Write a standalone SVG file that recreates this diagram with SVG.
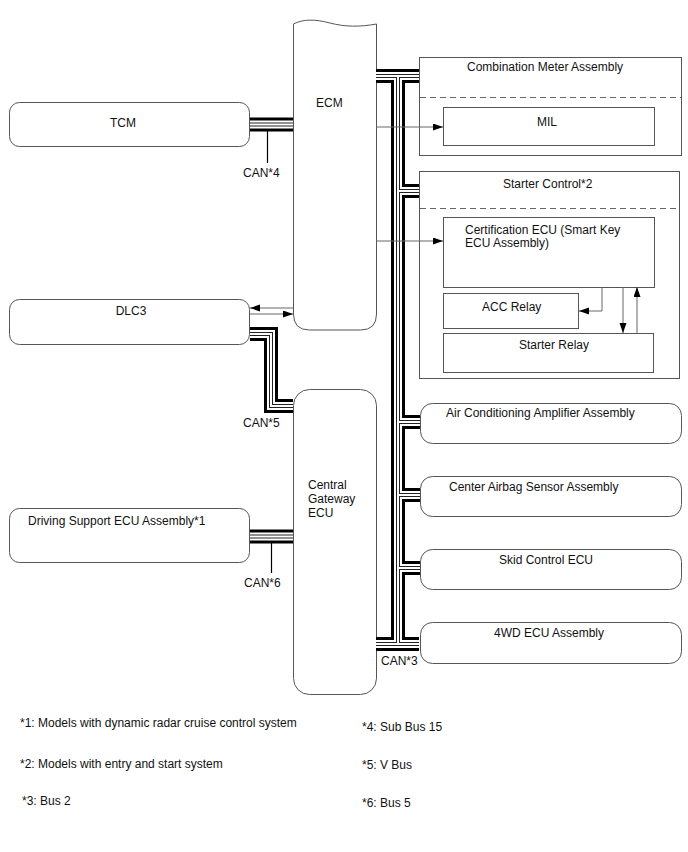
<svg xmlns="http://www.w3.org/2000/svg" width="688" height="852" viewBox="0 0 688 852">
<defs>
<marker id="ah" markerUnits="userSpaceOnUse" markerWidth="11" markerHeight="8" refX="10" refY="3.5" orient="auto">
<path d="M0,0 L10,3.5 L0,7 z" fill="#000"/>
</marker>
<style>
text{font-family:"Liberation Sans",Arial,sans-serif;font-size:12px;fill:#111}
.box{fill:#fff;stroke:#555;stroke-width:1}
.frame{fill:none;stroke:#555;stroke-width:1}
.dash{fill:none;stroke:#666;stroke-width:1;stroke-dasharray:6,4}
.arr{fill:none;stroke:#666;stroke-width:1;marker-end:url(#ah)}
.b1{fill:none;stroke:#000;stroke-width:14;stroke-linejoin:miter}
.b2{fill:none;stroke:#fff;stroke-width:8;stroke-linejoin:miter}
.b3{fill:none;stroke:#222;stroke-width:4;stroke-linejoin:miter}
.b4{fill:none;stroke:#fff;stroke-width:2;stroke-linejoin:miter}
.tick{fill:none;stroke:#000;stroke-width:1.2}
</style>
</defs>
<rect width="688" height="852" fill="#fff"/>

<g id="tcm">
<rect class="box" x="9.5" y="102.5" width="240" height="44" rx="10"/>
<text x="123" y="127" text-anchor="middle">TCM</text>
</g>
<g id="dlc3">
<rect class="box" x="9.5" y="299.5" width="240" height="45" rx="10"/>
<text x="131" y="315" text-anchor="middle">DLC3</text>
</g>
<g id="driving-support">
<rect class="box" x="9.5" y="508.5" width="240" height="54" rx="10"/>
<text x="28" y="525">Driving Support ECU Assembly*1</text>
</g>
<g id="ecm">
<path class="box" d="M293.5,24 C303,19 315,19 330,23 S360,27 376.5,24 V314 Q376.5,330 360.5,330 H309.5 Q293.5,330 293.5,314 Z"/>
<text x="316" y="107">ECM</text>
</g>
<g id="gateway">
<rect class="box" x="293.5" y="389.5" width="83" height="305" rx="16"/>
<text x="308" y="489">Central</text>
<text x="308" y="503">Gateway</text>
<text x="308" y="517">ECU</text>
</g>
<g id="combination-meter">
<rect class="frame" x="419.5" y="57.5" width="262" height="98"/>
<path class="dash" d="M420,97.5H681"/>
<text x="467" y="71">Combination Meter Assembly</text>
</g>
<g id="mil">
<rect class="box" x="443.5" y="107.5" width="211" height="38"/>
<text x="537" y="126">MIL</text>
</g>
<g id="starter-control">
<rect class="frame" x="419.5" y="171.5" width="260" height="207"/>
<path class="dash" d="M420,208.5H679"/>
<text x="503" y="188">Starter Control*2</text>
</g>
<g id="certification-ecu">
<rect class="box" x="443.5" y="217.5" width="211" height="70"/>
<text x="465" y="234">Certification ECU (Smart Key</text>
<text x="465" y="247">ECU Assembly)</text>
</g>
<g id="acc-relay">
<rect class="box" x="443.5" y="293.5" width="135" height="35"/>
<text x="482" y="311">ACC Relay</text>
</g>
<g id="starter-relay">
<rect class="box" x="443.5" y="333.5" width="210" height="39"/>
<text x="519" y="349">Starter Relay</text>
</g>
<g id="air-conditioning">
<rect class="box" x="420.5" y="403.5" width="261" height="40" rx="12"/>
<text x="446" y="417">Air Conditioning Amplifier Assembly</text>
</g>
<g id="center-airbag">
<rect class="box" x="420.5" y="476.5" width="261" height="40" rx="12"/>
<text x="449" y="491">Center Airbag Sensor Assembly</text>
</g>
<g id="skid-control">
<rect class="box" x="420.5" y="549.5" width="261" height="40" rx="12"/>
<text x="499" y="564">Skid Control ECU</text>
</g>
<g id="4wd-ecu">
<rect class="box" x="420.5" y="622.5" width="261" height="41" rx="12"/>
<text x="494" y="637">4WD ECU Assembly</text>
</g>

<g id="connectors">
<g id="bus">
<path class="b1" d="M250,124.5H293 M250,334H271V406H293 M250,536.5H293 M376,76H419 M398,76V644 M376,644H419 M398,191H419 M398,422H420 M398,495H420 M398,568H420"/>
<path class="b2" d="M250,124.5H293 M250,334H271V406H293 M250,536.5H293 M376,76H419 M398,76V644 M376,644H419 M398,191H419 M398,422H420 M398,495H420 M398,568H420"/>
<path class="b3" d="M250,124.5H293 M250,334H271V406H293 M250,536.5H293 M376,76H419 M398,76V644 M376,644H419 M398,191H419 M398,422H420 M398,495H420 M398,568H420"/>
<path class="b4" d="M250,124.5H293 M250,334H271V406H293 M250,536.5H293 M376,76H419 M398,76V644 M376,644H419 M398,191H419 M398,422H420 M398,495H420 M398,568H420"/>
</g>
<path class="tick" d="M267.5,131V163 M271.5,543V573"/>
<text x="243" y="177">CAN*4</text>
<text x="243" y="427">CAN*5</text>
<text x="244" y="587">CAN*6</text>
<text x="381" y="665">CAN*3</text>
<path class="arr" d="M376,127H443"/>
<path class="arr" d="M376,241H443"/>
<path class="arr" d="M293,308H250"/>
<path class="arr" d="M250,314H293"/>
<path class="arr" d="M602,287V311H579"/>
<path class="arr" d="M623,287V333"/>
<path class="arr" d="M637,333V287"/>
</g>

<g id="notes">
<text x="20" y="727">*1: Models with dynamic radar cruise control system</text>
<text x="20" y="768">*2: Models with entry and start system</text>
<text x="22" y="805">*3: Bus 2</text>
<text x="362" y="731">*4: Sub Bus 15</text>
<text x="362" y="769">*5: V Bus</text>
<text x="362" y="807">*6: Bus 5</text>
</g>
</svg>
